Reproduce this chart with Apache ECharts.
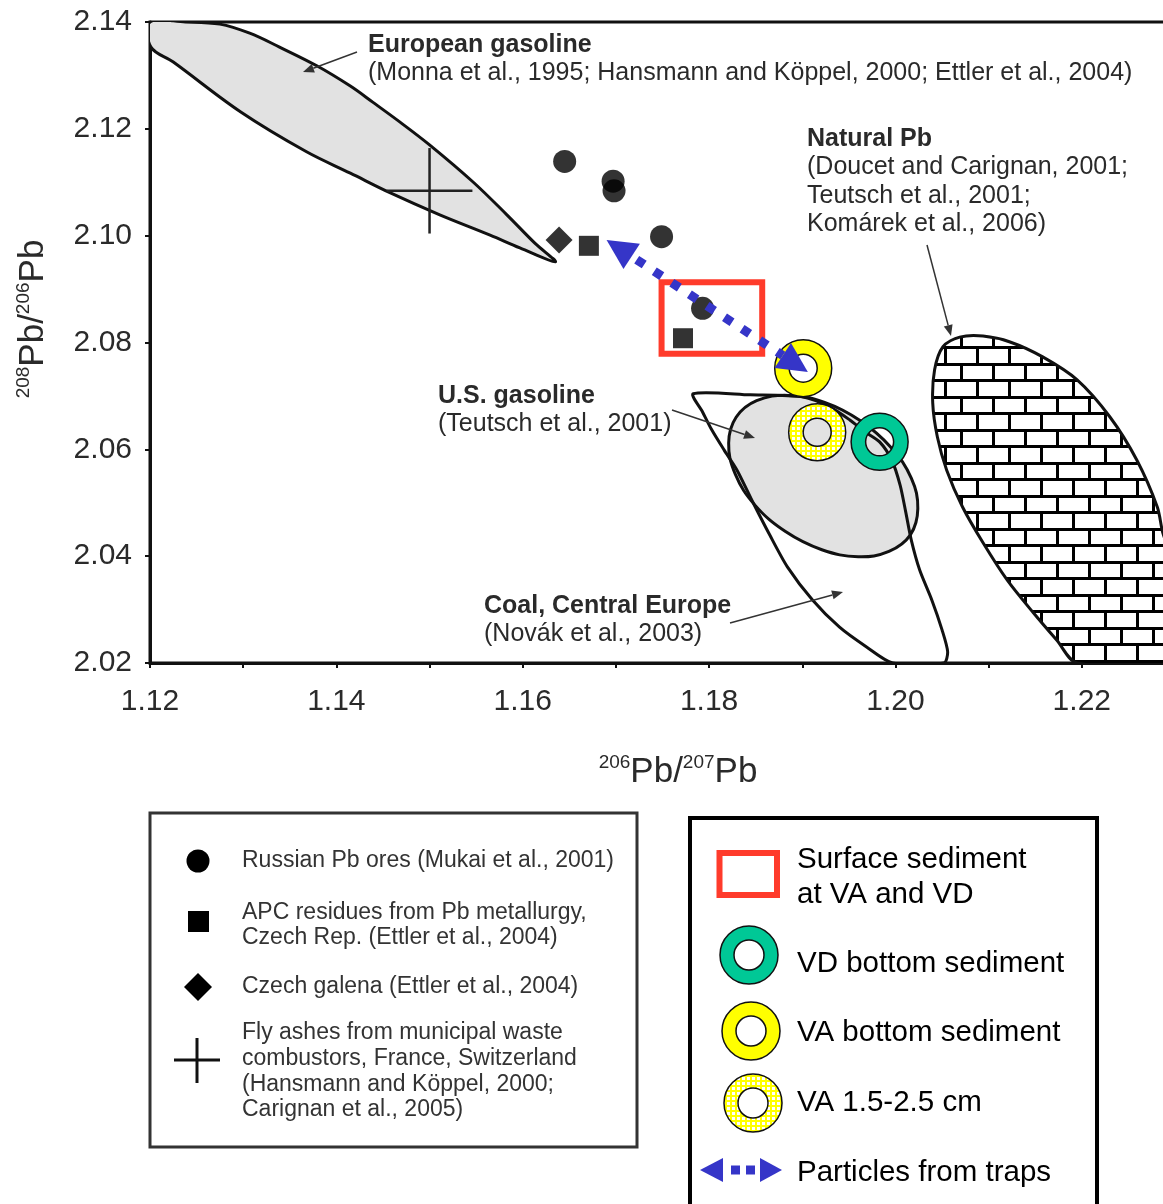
<!DOCTYPE html>
<html>
<head>
<meta charset="utf-8">
<script src="https://cdn.jsdelivr.net/npm/echarts/dist/echarts.min.js"></script>
<style>html,body{margin:0;padding:0;background:#fff}#chart{width:1163px;height:1204px}</style>
</head>
<body>
<div id="chart"></div>
<script>
// ---------------- data ----------------
// point series: [206Pb/207Pb, 208Pb/206Pb]
const russianPbOres = [[1.1645, 2.1139], [1.1697, 2.1102], [1.1698, 2.1084], [1.1749, 2.0998], [1.1793, 2.0864]];
const apcResidues = [[1.1671, 2.0981], [1.1772, 2.0808]];
const czechGalena = [[1.1639, 2.0992]];
// fly ashes: [x, y, x half-range, y half-range]
const flyAshes = [[1.1500, 2.1084, 0.0046, 0.0080]];
// surface sediment box: [x0, yTop, x1, yBottom]
const surfaceSediment = [[1.1749, 2.0913, 1.1857, 2.0779]];
const vdBottom = [[1.1983, 2.0614]];
const vaBottom = [[1.1901, 2.0752]];
const va15to25 = [[1.1916, 2.0632]];
// particles from traps: [x1, y1, x2, y2]
const particlesFromTraps = [[1.1690, 2.0992, 1.1906, 2.0745]];

// envelope outlines
const europeanGasoline = [[1.1200, 2.1400], [1.1238, 2.1400], [1.1275, 2.1396], [1.1307, 2.1379], [1.1339, 2.1353], [1.1379, 2.1318], [1.1415, 2.1280], [1.1439, 2.1250], [1.1468, 2.1213], [1.1500, 2.1170], [1.1547, 2.1100], [1.1583, 2.1039], [1.1613, 2.0986], [1.1635, 2.0951], [1.1597, 2.0977], [1.1565, 2.1001], [1.1511, 2.1039], [1.1458, 2.1080], [1.1415, 2.1117], [1.1368, 2.1157], [1.1297, 2.1232], [1.1225, 2.1325], [1.1201, 2.1353]];
const usGasoline = [[1.2016, 2.0440], [1.1993, 2.0409], [1.1960, 2.0399], [1.1921, 2.0412], [1.1882, 2.0446], [1.1849, 2.0496], [1.1828, 2.0554], [1.1821, 2.0612], [1.1829, 2.0660], [1.1851, 2.0691], [1.1885, 2.0701], [1.1924, 2.0688], [1.1962, 2.0654], [1.1995, 2.0604], [1.2017, 2.0546], [1.2024, 2.0489]];
const coalCentralEurope = [[1.1783, 2.0704], [1.1844, 2.0702], [1.1901, 2.0698], [1.1930, 2.0679], [1.1951, 2.0655], [1.1968, 2.0632], [1.1983, 2.0614], [1.1996, 2.0580], [1.2005, 2.0533], [1.2011, 2.0483], [1.2017, 2.0430], [1.2026, 2.0374], [1.2039, 2.0318], [1.2050, 2.0262], [1.2056, 2.0221], [1.2052, 2.0200], [1.1997, 2.0200], [1.1969, 2.0230], [1.1940, 2.0267], [1.1911, 2.0318], [1.1884, 2.0380], [1.1865, 2.0440], [1.1847, 2.0501], [1.1830, 2.0561], [1.1816, 2.0599], [1.1803, 2.0636], [1.1793, 2.0670]];
const naturalPb = [[1.2069, 2.0810], [1.2051, 2.0792], [1.2042, 2.0749], [1.2040, 2.0687], [1.2045, 2.0623], [1.2055, 2.0561], [1.2072, 2.0492], [1.2094, 2.0425], [1.2120, 2.0355], [1.2148, 2.0294], [1.2173, 2.0243], [1.2195, 2.0200], [1.2305, 2.0200], [1.2303, 2.0299], [1.2297, 2.0393], [1.2287, 2.0443], [1.2281, 2.0492], [1.2259, 2.0580], [1.2230, 2.0661], [1.2195, 2.0730], [1.2158, 2.0773], [1.2123, 2.0801], [1.2094, 2.0812]];

// axis ranges
const xRange = [1.12, 1.23, 0.01];
const yRange = [2.02, 2.14, 0.02];

// ---------------- styling helpers ----------------
const FF = '"Liberation Sans", Arial, sans-serif';
const TXT = '#2a2a2a';
const BLUE = '#3535c8';
const RED = '#ff3b2b';
const GREEN = '#00c896';
const YELLOW = '#ffff00';

function brickPattern() {
  const c = document.createElement('canvas');
  c.width = 32; c.height = 33;
  const g = c.getContext('2d');
  g.fillStyle = '#fff'; g.fillRect(0, 0, 32, 33);
  g.fillStyle = '#000';
  g.fillRect(0, 0, 32, 3); g.fillRect(0, 16, 32, 3);
  g.fillRect(0, 0, 3, 17); g.fillRect(16, 16, 3, 17);
  return c;
}
function checkPattern() {
  const c = document.createElement('canvas');
  c.width = 5; c.height = 5;
  const g = c.getContext('2d');
  g.fillStyle = YELLOW; g.fillRect(0, 0, 5, 5);
  g.fillStyle = '#fff'; g.fillRect(2, 2, 3, 3);
  return c;
}
const BRICK = { image: brickPattern(), repeat: 'repeat' };
const CHECK = { image: checkPattern(), repeat: 'repeat' };

function envelopeSeries(name, pts, style, smooth, z) {
  return {
    type: 'custom', name: name, coordinateSystem: 'cartesian2d', clip: true, silent: true, z: z,
    data: pts, encode: { x: 0, y: 1 },
    renderItem: function (params, api) {
      if (params.dataIndex !== 0) return null;
      const points = pts.map(function (p) { return api.coord(p); });
      return { type: 'polygon', shape: { points: points, smooth: smooth }, style: style };
    }
  };
}
function ringSeries(name, pts, fill) {
  return {
    type: 'custom', name: name, coordinateSystem: 'cartesian2d', silent: true, z: 6,
    data: pts, encode: { x: 0, y: 1 },
    renderItem: function (params, api) {
      const c = api.coord([api.value(0), api.value(1)]);
      return { type: 'ring', shape: { cx: c[0], cy: c[1], r: 28.5, r0: 14 }, style: { fill: fill, stroke: '#111', lineWidth: 1.5 } };
    }
  };
}

function arrowGfx(x1, y1, x2, y2, color, lw, hl, hw) {
  const a = Math.atan2(y2 - y1, x2 - x1);
  const bx = x2 - hl * Math.cos(a), by = y2 - hl * Math.sin(a);
  const px = -Math.sin(a) * hw / 2, py = Math.cos(a) * hw / 2;
  return [
    { type: 'line', z: 100, shape: { x1: x1, y1: y1, x2: bx, y2: by }, style: { stroke: color, lineWidth: lw } },
    { type: 'polygon', z: 100, shape: { points: [[x2, y2], [bx + px, by + py], [bx - px, by - py]] }, style: { fill: color } }
  ];
}
function txt(x, y, text, opt) {
  opt = opt || {};
  return {
    type: 'text', z: 100, x: x, y: y,
    style: {
      text: text, fill: opt.color || TXT,
      font: (opt.bold ? 'bold ' : '') + (opt.size || 25) + 'px ' + FF,
      align: opt.align || 'left', verticalAlign: 'middle'
    }
  };
}

// ---------------- graphics (annotations + legends) ----------------
const graphics = [];
// annotations in the plot
graphics.push(txt(368, 45, 'European gasoline', { bold: true }));
graphics.push(txt(368, 73, '(Monna et al., 1995; Hansmann and Köppel, 2000; Ettler et al., 2004)'));
graphics.push(txt(807, 139, 'Natural Pb', { bold: true }));
graphics.push(txt(807, 167, '(Doucet and Carignan, 2001;'));
graphics.push(txt(807, 196, 'Teutsch et al., 2001;'));
graphics.push(txt(807, 224, 'Komárek et al., 2006)'));
graphics.push(txt(438, 396, 'U.S. gasoline', { bold: true }));
graphics.push(txt(438, 424, '(Teutsch et al., 2001)'));
graphics.push(txt(484, 606, 'Coal, Central Europe', { bold: true }));
graphics.push(txt(484, 634, '(Novák et al., 2003)'));
graphics.push.apply(graphics, arrowGfx(357, 52, 303, 72, '#333', 1.5, 11, 9));
graphics.push.apply(graphics, arrowGfx(672, 410, 755, 438, '#333', 1.5, 11, 9));
graphics.push.apply(graphics, arrowGfx(730, 623, 843, 592, '#333', 1.5, 11, 9));
graphics.push.apply(graphics, arrowGfx(927, 245, 951, 336, '#333', 1.5, 11, 9));

// axis titles
const titleRich = {
  m: { fontSize: 35, fontFamily: FF, fill: TXT, lineHeight: 38 },
  s: { fontSize: 19, fontFamily: FF, fill: TXT, lineHeight: 21, verticalAlign: 'top' }
};
graphics.push({ type: 'text', z: 100, x: 678, y: 772, style: { text: '{s|206}{m|Pb/}{s|207}{m|Pb}', rich: titleRich, align: 'center', verticalAlign: 'middle' } });
graphics.push({ type: 'text', z: 100, x: 33, y: 319, rotation: Math.PI / 2, style: { text: '{s|208}{m|Pb/}{s|206}{m|Pb}', rich: titleRich, align: 'center', verticalAlign: 'middle' } });

// left legend
graphics.push({ type: 'rect', z: 100, shape: { x: 150, y: 813, width: 487, height: 334 }, style: { fill: '#fff', stroke: '#333', lineWidth: 3 } });
graphics.push({ type: 'circle', z: 101, shape: { cx: 198, cy: 861, r: 11.5 }, style: { fill: '#000' } });
graphics.push({ type: 'rect', z: 101, shape: { x: 188, y: 911, width: 21, height: 21 }, style: { fill: '#000' } });
graphics.push({ type: 'polygon', z: 101, shape: { points: [[198, 973], [212, 987], [198, 1001], [184, 987]] }, style: { fill: '#000' } });
graphics.push({ type: 'line', z: 101, shape: { x1: 174, y1: 1060, x2: 220, y2: 1060 }, style: { stroke: '#111', lineWidth: 3 } });
graphics.push({ type: 'line', z: 101, shape: { x1: 197, y1: 1038, x2: 197, y2: 1083 }, style: { stroke: '#111', lineWidth: 3 } });
const LL = { size: 23, color: '#333' };
graphics.push(txt(242, 861, 'Russian Pb ores (Mukai et al., 2001)', LL));
graphics.push(txt(242, 913, 'APC residues from Pb metallurgy,', LL));
graphics.push(txt(242, 938, 'Czech Rep. (Ettler et al., 2004)', LL));
graphics.push(txt(242, 987, 'Czech galena (Ettler et al., 2004)', LL));
graphics.push(txt(242, 1033, 'Fly ashes from municipal waste', LL));
graphics.push(txt(242, 1059, 'combustors, France, Switzerland', LL));
graphics.push(txt(242, 1085, '(Hansmann and Köppel, 2000;', LL));
graphics.push(txt(242, 1110, 'Carignan et al., 2005)', LL));

// right legend
graphics.push({ type: 'rect', z: 100, shape: { x: 690, y: 818, width: 407, height: 400 }, style: { fill: '#fff', stroke: '#000', lineWidth: 4 } });
graphics.push({ type: 'rect', z: 101, shape: { x: 719.5, y: 853, width: 57.5, height: 42 }, style: { fill: 'none', stroke: RED, lineWidth: 6 } });
graphics.push({ type: 'ring', z: 101, shape: { cx: 749, cy: 955, r: 29, r0: 15 }, style: { fill: GREEN, stroke: '#111', lineWidth: 1.5 } });
graphics.push({ type: 'ring', z: 101, shape: { cx: 751, cy: 1031, r: 29, r0: 15 }, style: { fill: YELLOW, stroke: '#111', lineWidth: 1.5 } });
graphics.push({ type: 'ring', z: 101, shape: { cx: 753, cy: 1103, r: 29, r0: 15 }, style: { fill: CHECK, stroke: '#111', lineWidth: 1.5 } });
graphics.push({ type: 'polygon', z: 101, shape: { points: [[700, 1170], [723, 1158], [723, 1182]] }, style: { fill: BLUE } });
graphics.push({ type: 'rect', z: 101, shape: { x: 731, y: 1165.5, width: 9, height: 9 }, style: { fill: BLUE } });
graphics.push({ type: 'rect', z: 101, shape: { x: 746, y: 1165.5, width: 9, height: 9 }, style: { fill: BLUE } });
graphics.push({ type: 'polygon', z: 101, shape: { points: [[782, 1170], [760, 1158], [760, 1182]] }, style: { fill: BLUE } });
const RL = { size: 29.5, color: '#000' };
graphics.push(txt(797, 860, 'Surface sediment', RL));
graphics.push(txt(797, 895, 'at VA and VD', RL));
graphics.push(txt(797, 964, 'VD bottom sediment', RL));
graphics.push(txt(797, 1033, 'VA bottom sediment', RL));
graphics.push(txt(797, 1103, 'VA 1.5-2.5 cm', RL));
graphics.push(txt(797, 1173, 'Particles from traps', RL));

// ---------------- chart ----------------
const axisCommon = {
  type: 'value',
  axisLine: { show: true, onZero: false, lineStyle: { color: '#111', width: 3 } },
  axisTick: { show: true, length: 5, lineStyle: { color: '#111', width: 2 } },
  splitLine: { show: false }
};

const option = {
  animation: false,
  backgroundColor: '#fff',
  grid: { left: 150, top: 22, width: 1025, height: 641, outerBoundsMode: 'none', containLabel: false, show: true, borderColor: '#111', borderWidth: 3, backgroundColor: 'transparent' },
  xAxis: Object.assign({}, axisCommon, {
    min: xRange[0], max: xRange[1], interval: xRange[2],
    axisLabel: {
      margin: 24, fontSize: 30, fontFamily: FF, color: TXT, showMaxLabel: false,
      formatter: function (v) { return Math.round(v * 100) % 2 === 0 ? v.toFixed(2) : ''; }
    }
  }),
  yAxis: Object.assign({}, axisCommon, {
    min: yRange[0], max: yRange[1], interval: yRange[2],
    axisLabel: { margin: 18, fontSize: 30, fontFamily: FF, color: TXT, formatter: function (v) { return v.toFixed(2); } }
  }),
  series: [
    envelopeSeries('European gasoline', europeanGasoline, { fill: '#e2e2e2', stroke: '#111', lineWidth: 3 }, 0.35, 1),
    envelopeSeries('U.S. gasoline', usGasoline, { fill: '#e2e2e2', stroke: '#111', lineWidth: 3 }, 0.4, 1),
    envelopeSeries('Natural Pb', naturalPb, { fill: BRICK, stroke: '#111', lineWidth: 3 }, 0.3, 1),
    envelopeSeries('Coal, Central Europe', coalCentralEurope, { fill: 'none', stroke: '#111', lineWidth: 3 }, 0.25, 2),
    {
      type: 'custom', name: 'Surface sediment at VA and VD', coordinateSystem: 'cartesian2d', silent: true, z: 3,
      data: surfaceSediment, encode: { x: [0, 2], y: [1, 3] },
      renderItem: function (params, api) {
        const p0 = api.coord([api.value(0), api.value(1)]);
        const p1 = api.coord([api.value(2), api.value(3)]);
        return { type: 'rect', shape: { x: Math.min(p0[0], p1[0]), y: Math.min(p0[1], p1[1]), width: Math.abs(p1[0] - p0[0]), height: Math.abs(p1[1] - p0[1]) }, style: { fill: 'none', stroke: RED, lineWidth: 6 } };
      }
    },
    {
      type: 'custom', name: 'Fly ashes', coordinateSystem: 'cartesian2d', silent: true, z: 3,
      data: flyAshes, encode: { x: 0, y: 1 },
      renderItem: function (params, api) {
        const x = api.value(0), y = api.value(1), ex = api.value(2), ey = api.value(3);
        const l = api.coord([x - ex, y]), r = api.coord([x + ex, y]);
        const t = api.coord([x, y + ey]), b = api.coord([x, y - ey]);
        return { type: 'group', children: [
          { type: 'line', shape: { x1: l[0], y1: l[1], x2: r[0], y2: r[1] }, style: { stroke: '#222', lineWidth: 2.5 } },
          { type: 'line', shape: { x1: t[0], y1: t[1], x2: b[0], y2: b[1] }, style: { stroke: '#222', lineWidth: 2.5 } }
        ] };
      }
    },
    { type: 'scatter', name: 'Russian Pb ores', data: russianPbOres, symbol: 'circle', symbolSize: 23, itemStyle: { color: '#000' }, z: 4, silent: true },
    { type: 'scatter', name: 'APC residues', data: apcResidues, symbol: 'rect', symbolSize: 20, itemStyle: { color: '#000' }, z: 4, silent: true },
    { type: 'scatter', name: 'Czech galena', data: czechGalena, symbol: 'diamond', symbolSize: 27, itemStyle: { color: '#000' }, z: 4, silent: true },
    ringSeries('VD bottom sediment', vdBottom, GREEN),
    ringSeries('VA bottom sediment', vaBottom, YELLOW),
    ringSeries('VA 1.5-2.5 cm', va15to25, CHECK),
    {
      type: 'custom', name: 'Particles from traps', coordinateSystem: 'cartesian2d', silent: true, z: 8,
      data: particlesFromTraps, encode: { x: [0, 2], y: [1, 3] },
      renderItem: function (params, api) {
        const a = api.coord([api.value(0), api.value(1)]);
        const b = api.coord([api.value(2), api.value(3)]);
        const ang = Math.atan2(b[1] - a[1], b[0] - a[0]);
        const L = 30, W = 30;
        const ux = Math.cos(ang), uy = Math.sin(ang), nx = -uy, ny = ux;
        const a2 = [a[0] + ux * L, a[1] + uy * L], b2 = [b[0] - ux * L, b[1] - uy * L];
        return { type: 'group', children: [
          { type: 'line', shape: { x1: a2[0] + ux * 6, y1: a2[1] + uy * 6, x2: b2[0], y2: b2[1] }, style: { stroke: BLUE, lineWidth: 9, lineDash: [9, 12] } },
          { type: 'polygon', shape: { points: [a, [a2[0] + nx * W / 2, a2[1] + ny * W / 2], [a2[0] - nx * W / 2, a2[1] - ny * W / 2]] }, style: { fill: BLUE } },
          { type: 'polygon', shape: { points: [b, [b2[0] + nx * W / 2, b2[1] + ny * W / 2], [b2[0] - nx * W / 2, b2[1] - ny * W / 2]] }, style: { fill: BLUE } }
        ] };
      }
    }
  ],
  graphic: graphics
};

const chart = echarts.init(document.getElementById('chart'), null, { renderer: 'canvas' });
chart.setOption(option);
</script>
</body>
</html>
